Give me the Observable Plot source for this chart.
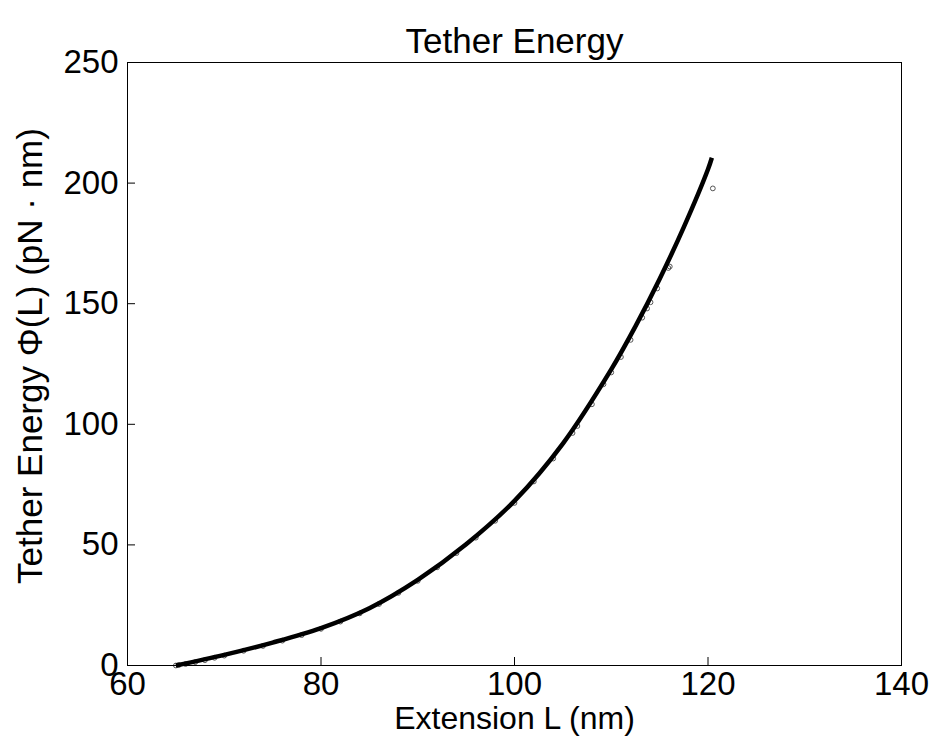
<!DOCTYPE html>
<html>
<head>
<meta charset="utf-8">
<script src="https://cdn.jsdelivr.net/npm/d3@7"></script>
<script src="https://cdn.jsdelivr.net/npm/@observablehq/plot@0.6"></script>
<style>
  html, body { margin: 0; padding: 0; background: #fff; }
</style>
</head>
<body>
<div id="chart"></div>
<script>
// Model curve: tether energy versus extension
const curveL   = [65, 70, 75, 80, 85, 90, 95, 100, 105, 110, 112.5, 115, 117.5, 120, 120.4];
const curvePhi = [0, 4.4, 9.5, 15.5, 23.75, 35.5, 50.25, 68.25, 92, 122.75, 140.6, 160.25, 181.75, 205.75, 210.5];

// Sampled energies (open circles)
const sampleL   = [65, 65.3, 66, 67, 68, 69, 70, 72, 74, 76, 78, 80, 82, 84, 86, 88, 90, 92, 94, 96, 98, 100, 102, 104, 106, 106.5, 108, 109.2, 110, 111, 112, 113.2, 113.7, 114.06, 114.75, 115.9, 116.05, 120.5];
const samplePhi = [0, 0.2, 0.6, 1.4, 2.2, 3.2, 4.1, 6.1, 8.1, 10.3, 12.6, 15.2, 18.2, 21.6, 25.5, 30.1, 35.1, 40.7, 46.6, 53.0, 60.0, 67.4, 76.3, 85.8, 96.4, 99.3, 108.3, 116.6, 121.5, 127.9, 135.0, 144.2, 148.0, 150.6, 156.3, 164.8, 165.4, 197.8];

const xTicks = [60, 80, 100, 120, 140];
const yTicks = [0, 50, 100, 150, 200, 250];

const titleText = "Tether Energy";
const xLabel = "Extension L (nm)";
const yLabel = "Tether Energy \u03A6(L) (pN \u00B7 nm)";

const curve = curveL.map((L, i) => ({L, phi: curvePhi[i]}));
const samples = sampleL.map((L, i) => ({L, phi: samplePhi[i]}));

const FONT = "'Liberation Sans', Arial, Helvetica, sans-serif";
const TICK_FS = 33;
const XLABEL_FS = 32;
const YLABEL_FS = 35;
const TITLE_FS = 35;

const chart = Plot.plot({
  width: 936,
  height: 754,
  marginLeft: 127,
  marginRight: 35,
  marginTop: 62,
  marginBottom: 89,
  style: {fontFamily: FONT, fontSize: `${TICK_FS}px`, background: "#fff", color: "#000"},
  x: {domain: [60, 140], label: null},
  y: {domain: [0, 250], label: null},
  marks: [
    Plot.dot(samples, {x: "L", y: "phi", r: 2.4, stroke: "#555", strokeWidth: 1, fill: "none"}),
    Plot.line(curve, {x: "L", y: "phi", stroke: "#000", strokeWidth: 4.5, curve: "catmull-rom", strokeLinecap: "butt"}),
    Plot.frame({stroke: "#000", strokeWidth: 1}),
    Plot.axisX({ticks: xTicks, tickSize: -8, tickPadding: 14, fontSize: TICK_FS, tickFormat: d3.format("d"), stroke: "#000"}),
    Plot.axisY({ticks: yTicks, tickSize: -8, tickPadding: 17, fontSize: TICK_FS, tickFormat: d3.format("d"), stroke: "#000"}),
    Plot.text([xLabel], {frameAnchor: "bottom", dy: 63, text: d => d, fontSize: XLABEL_FS, fill: "#000"}),
    Plot.text([yLabel], {frameAnchor: "left", dx: -97, dy: -8, rotate: -90, textAnchor: "middle", text: d => d, fontSize: YLABEL_FS, fill: "#000"}),
    Plot.text([titleText], {frameAnchor: "top", dy: -34, text: d => d, fontSize: TITLE_FS, fill: "#000"})
  ]
});

document.getElementById("chart").appendChild(chart);
</script>
</body>
</html>
